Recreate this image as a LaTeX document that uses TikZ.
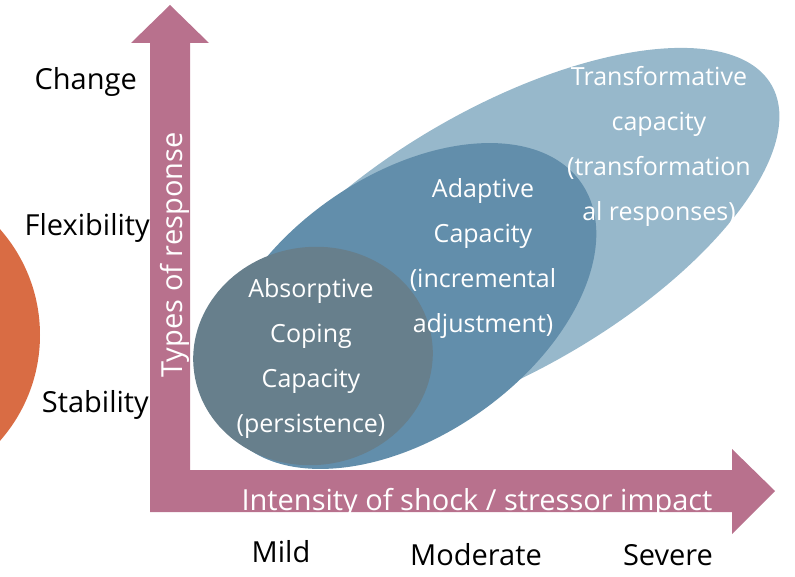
\documentclass[tikz,border=0pt]{standalone}
\usepackage{fontspec}
\setmainfont{Open Sans}
\usetikzlibrary{positioning}
\definecolor{axispink}{RGB}{184,113,141}
\definecolor{lightblue}{RGB}{151,184,203}
\definecolor{midblue}{RGB}{98,142,171}
\definecolor{greyblue}{RGB}{103,127,140}
\definecolor{rust}{RGB}{217,108,68}

\begin{document}
\begin{tikzpicture}[x=1pt, y=-1pt,
	inlabel/.style={white, align=center, inner sep=0pt, font=\fontsize{25}{45}\selectfont},
	axislabel/.style={white, inner sep=0pt, font=\fontsize{29}{30}\selectfont},
	scalelabel/.style={black, inner sep=0pt, font=\fontsize{29}{30}\selectfont}]
	\useasboundingbox (0,0) rectangle (795,577);
	\clip (0,0) rectangle (795,577);

	% circle on the left
	\fill[rust] (-120,335) circle [radius=160pt];

	% the three capacities
	\coordinate (tcentre) at (503,240);
	\coordinate (acentre) at (405,306);
	\coordinate (ccentre) at (313,356);
	\fill[lightblue, rotate around={30:(tcentre)}] (tcentre) ellipse [x radius=310pt, y radius=131pt];
	\fill[midblue, rotate around={35:(acentre)}] (acentre) ellipse [x radius=215pt, y radius=130pt];
	\fill[greyblue, rotate around={8:(ccentre)}] (ccentre) ellipse [x radius=120pt, y radius=109pt];

	% axes
	\coordinate (ytip) at (170,5);
	\coordinate (xtip) at (775,491);
	\fill[axispink] (ytip) -- (209,43) -- (190,43) -- (190,470) -- (732,470) -- (732,449)
		-- (xtip) -- (732,534) -- (732,512) -- (150,512) -- (150,43) -- (131,43) -- cycle;

	\node[inlabel] (transform) at (659,146) {Transformative\\capacity\\(transformation\\al responses)};
	\node[inlabel] (adapt) at (483,259) {Adaptive\\Capacity\\(incremental\\adjustment)};
	\node[inlabel] (absorb) at (311,359) {Absorptive\\Coping\\Capacity\\(persistence)};

	\node[axislabel, rotate=90, anchor=base] (ylabel) at (182,255) {Types of response};
	\node[axislabel, anchor=base] (xlabel) at (477,510) {Intensity of shock / stressor impact};

	\node[scalelabel, anchor=east] (change) at (137,82) {Change};
	\node[scalelabel, anchor=east] (flex) at (150,228) {Flexibility};
	\node[scalelabel, anchor=east] (stable) at (149,405) {Stability};

	\node[scalelabel] (mild) at (281,552) {Mild};
	\node[scalelabel] (moderate) at (476,555) {Moderate};
	\node[scalelabel] (severe) at (668,555) {Severe};
\end{tikzpicture}
\end{document}
